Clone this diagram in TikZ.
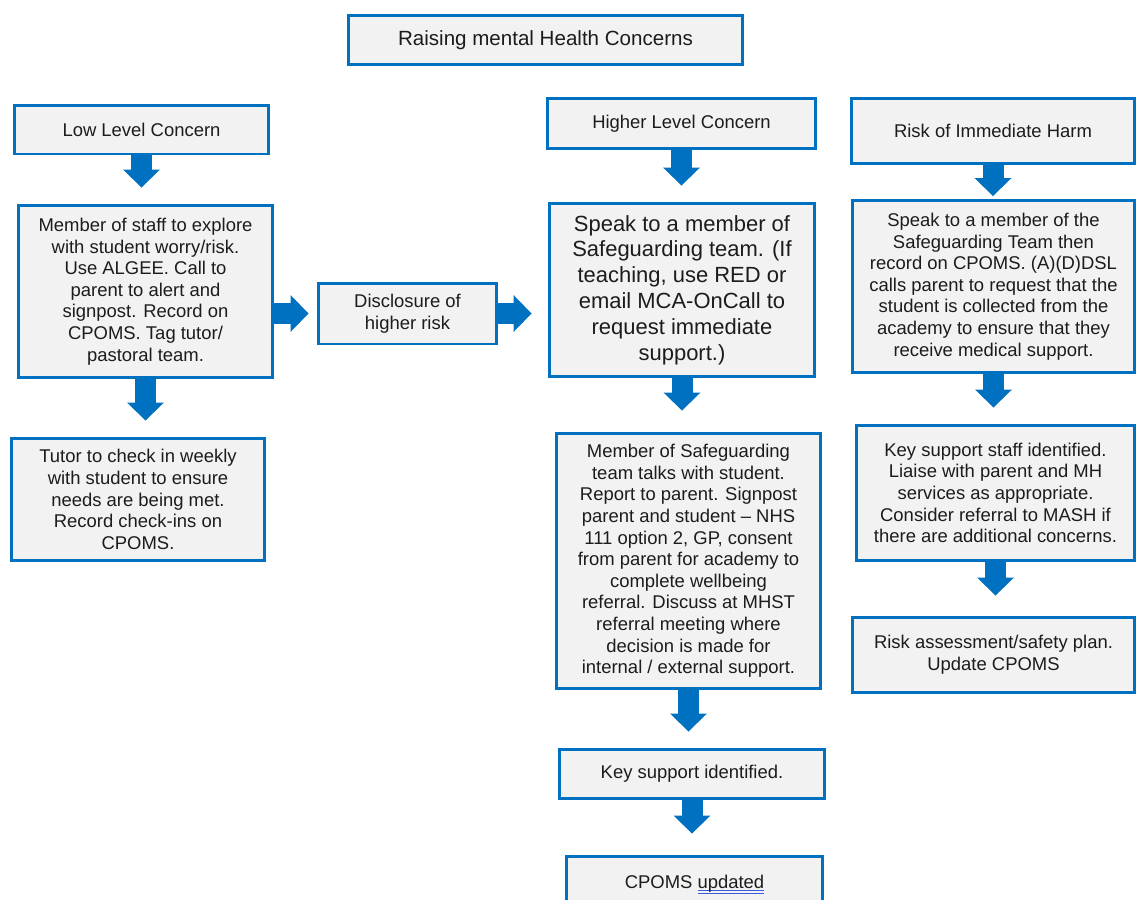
\documentclass[tikz,border=0pt]{standalone}
\usepackage{fontspec}
\setmainfont{Liberation Sans}
\usetikzlibrary{arrows.meta}
\usetikzlibrary{positioning}
\definecolor{mblue}{RGB}{0,112,192}
\definecolor{mfill}{RGB}{242,242,242}
\definecolor{mtext}{RGB}{28,28,28}
\definecolor{ulblue}{RGB}{60,90,220}
\newcommand{\dblul}[1]{\setbox0\hbox{#1}\rlap{\color{ulblue}\rule[-1.8pt]{\wd0}{0.45pt}}\rlap{\color{ulblue}\rule[-3pt]{\wd0}{0.45pt}}\box0}
\tikzset{box/.style = {draw=mblue, fill=mfill, line width=0.06cm, align=center, inner sep=0, text=mtext, font=\fontsize{10.5}{12.3}\selectfont}}
\tikzset{barrow/.style = {draw=mblue, line width=0.42cm, -{Triangle[width=0.74cm, length=0.36cm, line width=0pt]}, shorten >=0.32cm}}

\begin{document}
\begin{tikzpicture}[x=0.02cm, y=-0.02cm]
      \useasboundingbox (0,0) rectangle (1137,900);
      \clip (0,0) rectangle (1137,900);

      \node [box, minimum width=7.9cm, minimum height=1cm, font=\fontsize{11.7}{13}\selectfont] (title) at (545.5, 40) {Raising mental Health Concerns};

      % low level
      \node [box, minimum width=5.1cm, minimum height=0.98cm] (low) at (141.5, 129.5) {Low Level Concern};
      \node [box, minimum width=5.1cm, minimum height=3.46cm] (staff) at (145.5, 291.5) {Member of staff to explore\\ with student worry/risk.\\ Use ALGEE. Call to\\ parent to alert and\\ signpost. Record on\\ CPOMS. Tag tutor/\\ pastoral team.};
      \node [box, minimum width=5.08cm, minimum height=2.46cm] (tutor) at (138, 499.5) {Tutor to check in weekly\\ with student to ensure\\ needs are being met.\\ Record check-ins on\\ CPOMS.};
      \node [box, minimum width=3.58cm, minimum height=1.22cm] (disc) at (407.5, 313.5) {Disclosure of\\ higher risk};

      % higher level
      \node [box, minimum width=5.38cm, minimum height=1.02cm] (higher) at (681.5, 123.5) {Higher Level Concern};
      \node [box, minimum width=5.32cm, minimum height=3.48cm, font=\fontsize{12.5}{14.7}\selectfont] (speak) at (682, 290) {Speak to a member of\\ Safeguarding team. (If\\ teaching, use RED or\\ email MCA-OnCall to\\ request immediate\\ support.)};
      \node [box, minimum width=5.3cm, minimum height=5.12cm] (sgteam) at (688.5, 561) {Member of Safeguarding\\ team talks with student.\\ Report to parent. Signpost\\ parent and student -- NHS\\ 111 option 2, GP, consent\\ from parent for academy to\\ complete wellbeing\\ referral. Discuss at MHST\\ referral meeting where\\ decision is made for\\ internal / external support.};
      \node [box, minimum width=5.32cm, minimum height=0.98cm] (keysup) at (692, 773.5) {Key support identified.};
      \node [box, minimum width=5.14cm, minimum height=1.12cm] (cpoms) at (694.5, 884) {CPOMS \dblul{updated}};

      % immediate harm
      \node [box, minimum width=5.68cm, minimum height=1.32cm] (risk) at (993, 131) {Risk of Immediate Harm};
      \node [box, minimum width=5.66cm, minimum height=3.46cm] (rspeak) at (993.5, 286.5) {Speak to a member of the\\ Safeguarding Team then\\ record on CPOMS. (A)(D)DSL\\ calls parent to request that the\\ student is collected from the\\ academy to ensure that they\\ receive medical support.};
      \node [box, minimum width=5.58cm, minimum height=2.72cm] (keystaff) at (995.5, 493) {Key support staff identified.\\ Liaise with parent and MH\\ services as appropriate.\\ Consider referral to MASH if\\ there are additional concerns.};
      \node [box, minimum width=5.66cm, minimum height=1.5cm] (riskass) at (993.5, 654.5) {Risk assessment/safety plan.\\ Update CPOMS};

      \draw [barrow] (low.south) -- (low.south |- staff.north);
      \draw [barrow] (staff.south) -- (staff.south |- tutor.north);
      \draw [barrow, shorten >=0.16cm] (disc.west -| staff.east) -- (disc.west);
      \draw [barrow] (disc.east) -- (disc.east -| speak.west);

      \draw [barrow] (higher.south) -- (higher.south |- speak.north);
      \draw [barrow, shorten >=0.42cm] (speak.south) -- (speak.south |- sgteam.north);
      \draw [barrow] (sgteam.south) -- (sgteam.south |- keysup.north);
      \draw [barrow, shorten >=0.42cm] (keysup.south) -- (keysup.south |- cpoms.north);

      \draw [barrow, shorten >=0.05cm] (risk.south) -- (risk.south |- rspeak.north);
      \draw [barrow] (rspeak.south) -- (rspeak.south |- keystaff.north);
      \draw [barrow, shorten >=0.4cm] (keystaff.south) -- (keystaff.south |- riskass.north);
    \end{tikzpicture}
\end{document}
